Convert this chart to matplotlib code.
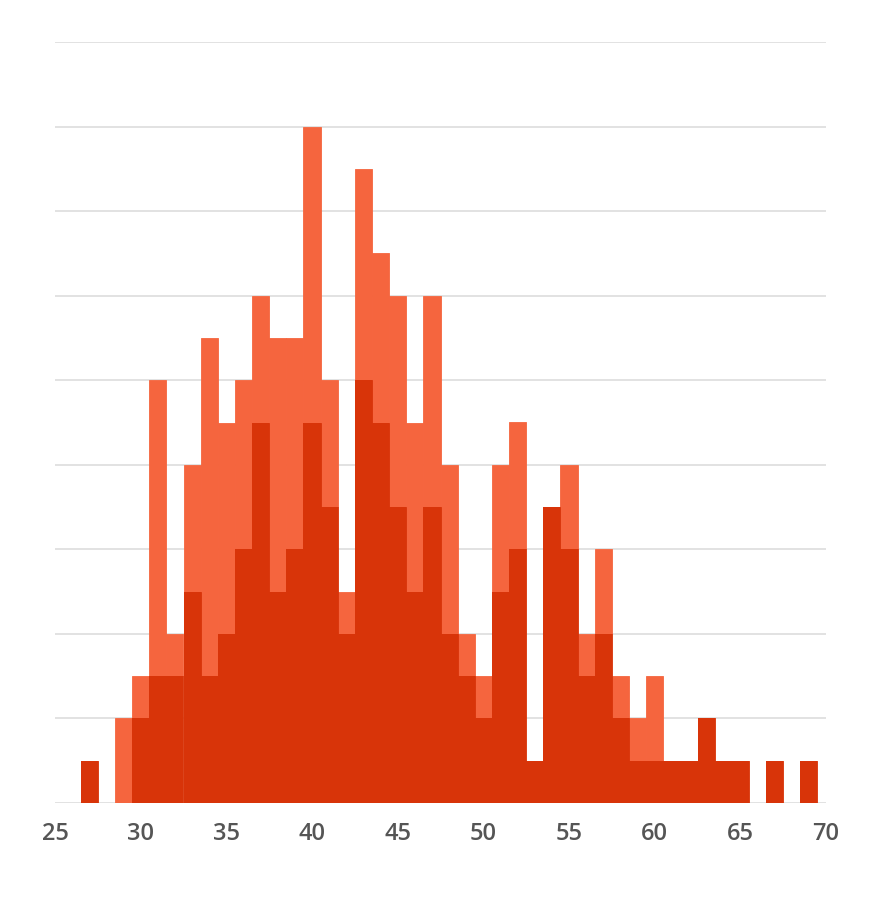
import matplotlib
matplotlib.use("Agg")
import matplotlib.pyplot as plt
import numpy as np

bins = list(range(27, 70))
dark = [1, 0, 0, 2, 3, 3, 5, 3, 4, 6, 9, 5, 6, 9, 7, 4, 10, 9, 7, 5, 7, 4, 3, 2, 5, 6,
        1, 7, 6, 3, 4, 2, 1, 1, 1, 1, 2, 1, 1, 0, 1, 0, 1]
total = [1, 0, 2, 3, 10, 4, 8, 11, 9, 10, 12, 11, 11, 16, 10, 5, 15, 13, 12, 9, 12, 8, 4, 3, 8, 9,
         1, 7, 8, 4, 6, 3, 2, 3, 1, 1, 2, 1, 1, 0, 1, 0, 1]
light = [t - d for t, d in zip(total, dark)]
xticks = [25, 30, 35, 40, 45, 50, 55, 60, 65, 70]

dark_color = "#D83409"
light_color = "#F5653E"

fig = plt.figure(figsize=(8.8, 9.22), dpi=100)
ax = fig.add_axes([55/880, (922-803)/922, (826-55)/880, (803-42)/922])

ax.bar(bins, dark, width=1.0, color=dark_color, edgecolor=dark_color, linewidth=0.6, zorder=3)
ax.bar(bins, light, width=1.0, bottom=dark, color=light_color, edgecolor=light_color,
       linewidth=0.6, zorder=2.9)
# redraw dark on top so light edges don't overlap it
ax.bar(bins, dark, width=1.0, color=dark_color, linewidth=0, zorder=3.1)

ax.set_xlim(25, 70)
ax.set_ylim(0, 18)
ax.set_yticks(np.arange(0, 19, 2))
ax.yaxis.grid(True, color="#DDDDDD", linewidth=1.2, zorder=0)
ax.set_axisbelow(True)
ax.set_yticklabels([])
ax.tick_params(axis="y", length=0)
ax.set_xticks(xticks)
ax.set_xticklabels([str(t) for t in xticks], fontsize=17, color="#555555",
                   family=["Open Sans", "DejaVu Sans"], fontweight="semibold")
ax.tick_params(axis="x", length=0, pad=14)
for s in ax.spines.values():
    s.set_visible(False)

fig.savefig("out.png", dpi=100, facecolor="white")
